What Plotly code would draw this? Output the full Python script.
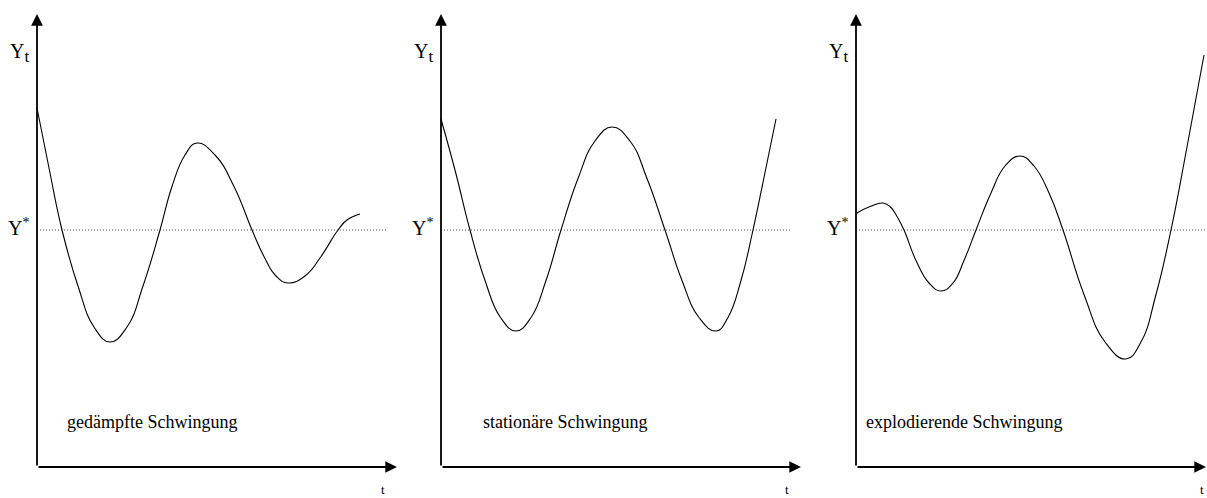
import plotly.graph_objects as go

# Zeitachse t und Abweichung Y_t - Y* für die drei Schwingungstypen
t_gedaempft = [0, 1.2, 2.5, 4.1, 5.7, 7.3, 9.0, 10.6, 12.3, 13.5, 14.8, 16.0, 17.8, 19.7,
               21.5, 22.7, 23.9, 25.1, 26.8, 28.4, 30.1, 31.0, 32.3]
y_gedaempft = [12.2, 6.2, 0, -5.6, -9.7, -11.2, -9.7, -5.6, 0, 4.35, 7.5, 8.7, 7.5, 4.35,
               0, -2.65, -4.6, -5.3, -4.6, -2.65, 0, 1.0, 1.6]

t_stationaer = [0, 1.45, 2.9, 4.4, 5.95, 7.5, 9.0, 10.5, 12.0, 13.7, 15.4, 17.1, 18.9, 20.6,
                22.4, 24.1, 25.8, 27.5, 28.7, 30.0, 31.2, 32.35, 33.5]
y_stationaer = [11.1, 5.8, 0, -5.05, -8.75, -10.1, -8.75, -5.05, 0, 5.15, 8.9, 10.3, 8.9, 5.15,
                0, -5.05, -8.75, -10.1, -8.75, -5.05, 0, 5.5, 11.1]

t_explodierend = [0.1, 1.4, 2.7, 3.4, 4.1, 4.8, 6.0, 7.3, 8.5, 9.7, 10.8, 12.0, 13.5, 14.9, 16.4,
                  17.8, 19.3, 20.7, 22.8, 24.9, 27.0, 28.5, 30.0, 31.5, 33.1, 34.8]
y_explodierend = [1.7, 2.35, 2.7, 2.35, 1.35, 0, -3.05, -5.3, -6.1, -5.3, -3.05, 0, 3.7, 6.4, 7.4,
                  6.4, 3.7, 0, -6.45, -11.2, -12.9, -11.2, -6.45, 0, 8.3, 17.5]

titel = ["gedämpfte Schwingung", "stationäre Schwingung", "explodierende Schwingung"]
y_stern = 0.0
t_gleichgewicht_ende = [35.1, 35.1, 35.1]

W, H = 1207, 498
# Ursprung jeder Achse in Pixeln, 10 px je Einheit
achsen_px = [37, 441, 856]
rand_px = [(0, 420), (420, 830), (830, W)]
oben_px, unten_px, y0_px = 14, 467, 230
skala = 10.0

def y_wert(py):
    return (y0_px - py) / skala

kurven = [(t_gedaempft, y_gedaempft), (t_stationaer, y_stationaer), (t_explodierend, y_explodierend)]

fig = go.Figure()
layout = dict(
    width=W, height=H, margin=dict(l=0, r=0, t=0, b=0),
    paper_bgcolor="white", plot_bgcolor="white", showlegend=False,
    font=dict(family="Liberation Serif, Times New Roman, serif", color="black"),
)
annots = []
FONT = "Liberation Serif, Times New Roman, serif"

for i, ((tt, yy), ax_px, (l_px, r_px)) in enumerate(zip(kurven, achsen_px, rand_px)):
    suf = "" if i == 0 else str(i + 1)
    xname, yname = "x" + suf, "y" + suf
    layout["xaxis" + suf] = dict(
        domain=[l_px / W, r_px / W],
        range=[(l_px - ax_px) / skala, (r_px - ax_px) / skala],
        visible=False, anchor=yname, fixedrange=True,
    )
    layout["yaxis" + suf] = dict(
        domain=[0, 1], range=[y_wert(H), y_wert(0)],
        visible=False, anchor=xname, fixedrange=True,
    )
    # Gleichgewichtsniveau Y*
    fig.add_trace(go.Scatter(
        x=[0, t_gleichgewicht_ende[i]], y=[y_stern, y_stern], mode="lines",
        line=dict(color="#555555", width=1, dash="1px,2px"),
        xaxis=xname, yaxis=yname, hoverinfo="skip",
    ))
    # Zeitpfad
    fig.add_trace(go.Scatter(
        x=tt, y=yy, mode="lines", line=dict(color="black", width=1.1, shape="spline", smoothing=1.3),
        xaxis=xname, yaxis=yname, hoverinfo="skip",
    ))
    # Ordinate mit Pfeil
    annots.append(dict(
        x=0, y=y_wert(oben_px), xref=xname, yref=yname,
        ax=0, ay=y_wert(unten_px), axref=xname, ayref=yname,
        showarrow=True, arrowhead=2, arrowsize=1.3, arrowwidth=1.8, arrowcolor="black", text="",
    ))
    # Abszisse mit Pfeil (in Pixeln relativ zur Spitze)
    annots.append(dict(
        x=(ax_px + 360) / W, y=1 - unten_px / H, xref="paper", yref="paper",
        ax=-360, ay=0, axref="pixel", ayref="pixel",
        showarrow=True, arrowhead=2, arrowsize=1.3, arrowwidth=1.8, arrowcolor="black", text="",
    ))
    # Beschriftungen
    annots.append(dict(
        x=-0.6, y=y_wert(53), xref=xname, yref=yname, xanchor="right", yanchor="middle",
        text="Y<sub><span style='font-size:17px'>t</span></sub>", showarrow=False,
        font=dict(family=FONT, size=20, color="black"),
    ))
    annots.append(dict(
        x=-0.6, y=y_wert(227), xref=xname, yref=yname, xanchor="right", yanchor="middle",
        text="Y<sup>*</sup>", showarrow=False, font=dict(family=FONT, size=20, color="black"),
    ))
    annots.append(dict(
        x=(ax_px + 346) / W, y=1 - 489 / H, xref="paper", yref="paper", xanchor="center", yanchor="middle",
        text="t", showarrow=False, font=dict(family=FONT, size=13, color="black"),
    ))
    titel_x = [2.8, 4.0, 0.8][i]
    annots.append(dict(
        x=titel_x, y=y_wert(422), xref=xname, yref=yname, xanchor="left", yanchor="middle",
        text=titel[i], showarrow=False, font=dict(family=FONT, size=18, color="black"),
    ))

layout["annotations"] = annots
fig.update_layout(**layout)
fig.write_html("out.html", config={"displayModeBar": False})
